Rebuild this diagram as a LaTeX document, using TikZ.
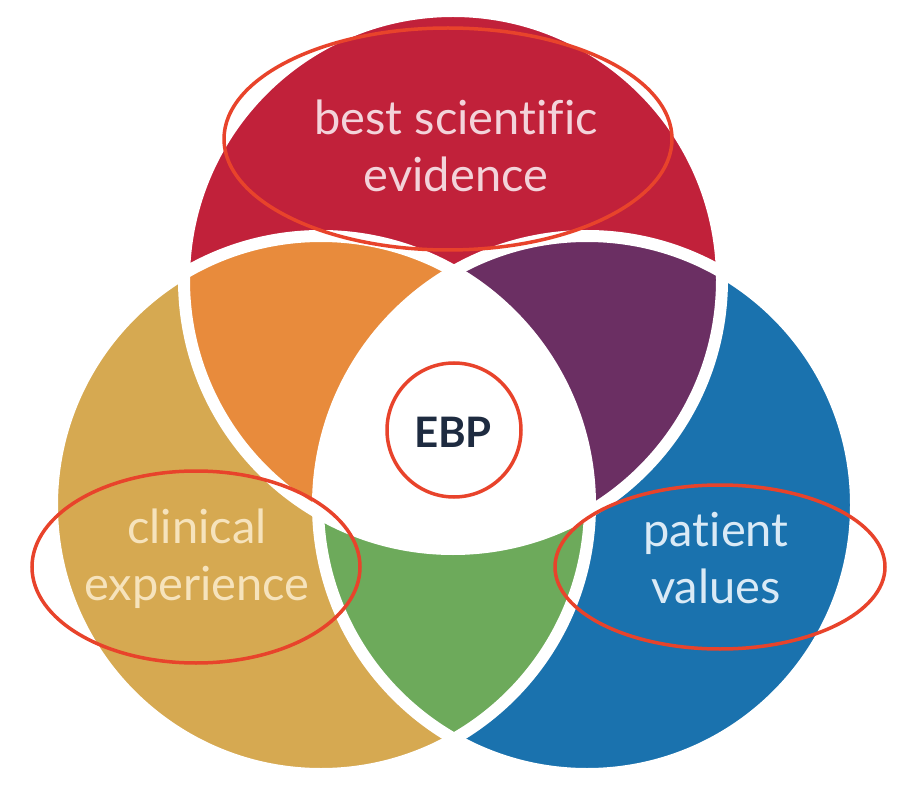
\documentclass[tikz,border=0pt]{standalone}
\usepackage{fontspec}
\setmainfont{Lato}[Ligatures=CommonOff]
\usepackage{tikz}
\usetikzlibrary{positioning}
\definecolor{evired}{HTML}{C1213A}
\definecolor{cliniGold}{HTML}{D6A951}
\definecolor{patBlue}{HTML}{1A72AE}
\definecolor{mixOrange}{HTML}{E88B3C}
\definecolor{mixPurple}{HTML}{6B2F63}
\definecolor{mixGreen}{HTML}{6DAA5B}
\definecolor{ebpNavy}{HTML}{1E2B40}
\definecolor{markRed}{HTML}{E8432B}
\definecolor{evidText}{HTML}{F3D3DA}
\definecolor{cliniText}{HTML}{F6E3BC}
\definecolor{patText}{HTML}{DAEAF6}

\begin{document}
\begin{tikzpicture}[x=1pt,y=-1pt,
  gap/.style={draw=white,line width=12pt},
  label/.style={align=center,font=\fontsize{47}{57}\selectfont},
  ring/.style={draw=markRed,line width=3.5pt}]
\useasboundingbox (0,0) rectangle (908,794);
\fill[white] (0,0) rectangle (908,794);
\coordinate (ctop) at (453,280);
\coordinate (cleft) at (321,505);
\coordinate (cright) at (587,505);
% single circles
\fill[evired] (ctop) circle[radius=269pt];
\fill[cliniGold] (cleft) circle[radius=269pt];
\fill[patBlue] (cright) circle[radius=269pt];
% pairwise overlaps
\begin{scope}
  \clip (ctop) circle[radius=269pt];
  \fill[mixOrange] (cleft) circle[radius=269pt];
  \fill[mixPurple] (cright) circle[radius=269pt];
  \clip (cleft) circle[radius=269pt];
  \fill[white] (cright) circle[radius=269pt];
\end{scope}
\begin{scope}
  \clip (cleft) circle[radius=269pt];
  \clip (cright) circle[radius=269pt];
  \fill[mixGreen] (cleft) circle[radius=269pt];
  \clip (ctop) circle[radius=269pt];
  \fill[white] (ctop) circle[radius=269pt];
\end{scope}
% white gaps
\draw[gap] (ctop) circle[radius=269pt];
\draw[gap] (cleft) circle[radius=269pt];
\draw[gap] (cright) circle[radius=269pt];
% texts
\node[label,text=evidText] (evidence) at (456,146) {best scientific\\evidence};
\node[label,text=cliniText] (clinical) at (197,559) {clinical\\experience};
\node[label,text=patText] (patient) at (716,558) {patient\\values};
\node[font=\fontsize{42}{46}\selectfont\bfseries,text=ebpNavy] (ebp) at (453,432) {EBP};
% marks
\draw[ring] (448,139) ellipse[x radius=224pt,y radius=111pt];
\draw[ring] (454,430) circle[radius=67pt];
\draw[ring] (196,567) ellipse[x radius=164pt,y radius=96pt];
\draw[ring] (720,567) ellipse[x radius=165pt,y radius=82pt];
\end{tikzpicture}
\end{document}
